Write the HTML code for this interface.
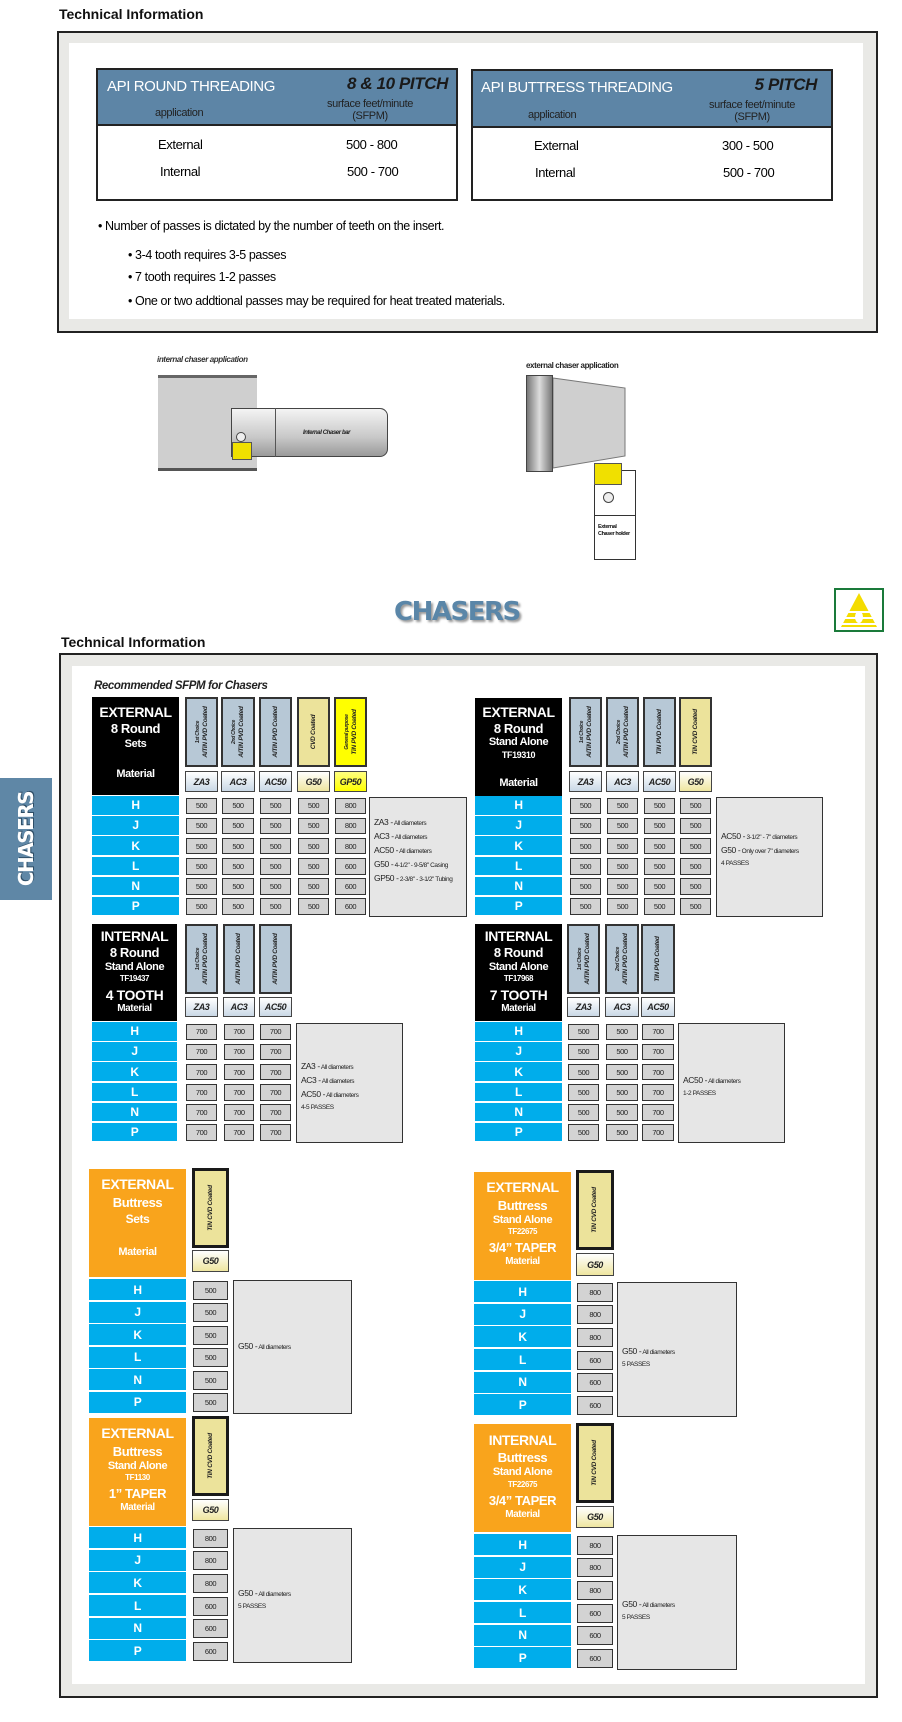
<!DOCTYPE html>
<html><head><meta charset="utf-8">
<style>
*{margin:0;padding:0;box-sizing:border-box}
body{width:902px;height:1722px;position:relative;background:#fff;font-family:"Liberation Sans",Arial,sans-serif;overflow:hidden}
.a{position:absolute}
.n{font-family:"Liberation Sans Narrow","Liberation Sans",sans-serif;white-space:nowrap;letter-spacing:-0.4px}
.ti{font-weight:bold;font-size:14px;color:#111}
.frame{border:2px solid #222;background:#e9e9e6}
.white{background:#fff}
.th{background:#5d85a6;}
.tbl{border:2px solid #222;background:#fff}
.cell{border:1px solid #333;background:#d3d3d3;font-size:7.5px;color:#222;display:flex;align-items:center;justify-content:center}
.lab{color:#fff;font-weight:bold;text-align:center;white-space:nowrap}
.hb{border:2px solid #333;background:#b7c8d6;overflow:hidden}
.hb .r{position:absolute;left:50%;top:50%;transform:translate(-50%,-50%) rotate(-90deg);white-space:nowrap;font-size:6.5px;font-weight:bold;font-style:italic;color:#222;text-align:center;line-height:8px;letter-spacing:-0.3px}
.code{border:1px solid #444;background:linear-gradient(#fff,#c9d8e6);font-size:9px;font-weight:bold;font-style:italic;color:#222;display:flex;align-items:center;justify-content:center}
.note{border:1px solid #333;background:#e6e6e6;font-size:6.5px;color:#222;padding-left:4px;line-height:12px}
.note b{font-size:8.5px;font-weight:normal}
.row{background:#00adeb;color:#fff;font-weight:bold;font-size:12px;display:flex;align-items:center;justify-content:center}
</style></head><body>

<div class="a ti" style="left:59px;top:6px">Technical Information</div>
<div class="a frame" style="left:57px;top:31px;width:821px;height:302px"></div>
<div class="a white" style="left:69px;top:43px;width:794px;height:276px"></div>

<div class="a tbl" style="left:96px;top:68px;width:362px;height:133px"></div>
<div class="a th" style="left:98px;top:70px;width:358px;height:56px;border-bottom:2px solid #222"></div>
<div class="a n" style="left:107px;top:78px;color:#fff;font-size:15px">API ROUND THREADING</div>
<div class="a n" style="left:310px;top:74px;width:138px;text-align:right;color:#1a1a1a;font-size:17px;font-weight:bold;font-style:italic">8 &amp; 10 PITCH</div>
<div class="a n" style="left:155px;top:107px;color:#222;font-size:11px">application</div>
<div class="a n" style="left:315px;top:98px;width:110px;text-align:center;color:#222;font-size:11px;line-height:12px">surface feet/minute<br>(SFPM)</div>
<div class="a n" style="left:158px;top:137px;font-size:13px">External</div>
<div class="a n" style="left:346px;top:137px;font-size:13px">500 - 800</div>
<div class="a n" style="left:160px;top:164px;font-size:13px">Internal</div>
<div class="a n" style="left:347px;top:164px;font-size:13px">500 - 700</div>

<div class="a tbl" style="left:471px;top:69px;width:362px;height:132px"></div>
<div class="a th" style="left:473px;top:71px;width:358px;height:57px;border-bottom:2px solid #222"></div>
<div class="a n" style="left:481px;top:79px;color:#fff;font-size:15px">API BUTTRESS THREADING</div>
<div class="a n" style="left:680px;top:75px;width:137px;text-align:right;color:#1a1a1a;font-size:17px;font-weight:bold;font-style:italic">5 PITCH</div>
<div class="a n" style="left:528px;top:109px;color:#222;font-size:11px">application</div>
<div class="a n" style="left:697px;top:99px;width:110px;text-align:center;color:#222;font-size:11px;line-height:12px">surface feet/minute<br>(SFPM)</div>
<div class="a n" style="left:534px;top:138px;font-size:13px">External</div>
<div class="a n" style="left:722px;top:138px;font-size:13px">300 - 500</div>
<div class="a n" style="left:535px;top:165px;font-size:13px">Internal</div>
<div class="a n" style="left:723px;top:165px;font-size:13px">500 - 700</div>

<div class="a n" style="left:98px;top:219px;font-size:12.5px">• Number of passes is dictated by the number of teeth on the insert.</div>
<div class="a n" style="left:128px;top:248px;font-size:12.5px">• 3-4 tooth requires 3-5 passes</div>
<div class="a n" style="left:128px;top:270px;font-size:12.5px">• 7 tooth requires 1-2 passes</div>
<div class="a n" style="left:128px;top:294px;font-size:12.5px">• One or two addtional passes may be required for heat treated materials.</div>

<!-- illustrations -->
<div class="a n" style="left:157px;top:355px;font-size:8px;font-style:italic;font-weight:bold;color:#333">internal chaser application</div>
<div class="a" style="left:158px;top:375px;width:99px;height:96px;background:#cfcfcf;border-top:3px solid #666;border-bottom:3px solid #555"></div>
<div class="a" style="left:231px;top:408px;width:157px;height:49px;background:linear-gradient(#f4f4f4,#c8c8c8 60%,#9a9a9a);border:1px solid #444;border-radius:0 8px 8px 0"></div>
<div class="a" style="left:275px;top:408px;width:1px;height:49px;background:#555"></div>
<div class="a n" style="left:303px;top:430px;font-size:6px;font-weight:bold;font-style:italic;color:#222">Internal Chaser bar</div>
<div class="a" style="left:232px;top:442px;width:20px;height:18px;background:#f0e000;border:1px solid #555"></div>
<div class="a" style="left:236px;top:432px;width:10px;height:10px;border:1px solid #444;border-radius:50%;background:#eee"></div>

<div class="a n" style="left:526px;top:361px;font-size:8px;font-weight:bold;color:#222">external chaser application</div>
<div class="a" style="left:526px;top:375px;width:27px;height:97px;background:linear-gradient(90deg,#777,#ddd 50%,#777);border:1px solid #444"></div>
<svg class="a" style="left:553px;top:376px" width="75" height="96"><polygon points="0,2 72,12 72,80 0,92" fill="#cfcfcf" stroke="#777"/></svg>
<div class="a" style="left:594px;top:470px;width:42px;height:90px;border:1px solid #333;background:#fff"></div>
<div class="a" style="left:594px;top:515px;width:42px;height:1px;background:#333"></div>
<div class="a" style="left:594px;top:463px;width:28px;height:22px;background:#f0e000;border:1px solid #555"></div>
<div class="a" style="left:603px;top:492px;width:11px;height:11px;border:1px solid #444;border-radius:50%;background:#eee"></div>
<div class="a n" style="left:598px;top:524px;font-size:5.5px;font-weight:bold;line-height:7px;color:#111">External<br>Chaser holder</div>

<!-- CHASERS title -->
<div class="a" style="left:394px;top:597px;font-size:26px;font-weight:900;color:#5a86a8;letter-spacing:-1.5px;text-shadow:2px 2px 2px #999;font-family:'DejaVu Sans',sans-serif">CHASERS</div>
<div class="a" style="left:834px;top:588px;width:50px;height:44px;border:2px solid #1a7a3a;background:#fff"></div>
<svg class="a" style="left:837px;top:591px" width="44" height="38"><polygon points="22,2 40,36 4,36" fill="#f4dc00"/><rect x="4" y="20" width="36" height="2" fill="#fff"/><rect x="4" y="26" width="36" height="2" fill="#fff"/><rect x="4" y="32" width="36" height="2" fill="#fff"/><ellipse cx="22" cy="26" rx="4" ry="6" fill="#fff"/></svg>

<div class="a ti" style="left:61px;top:634px">Technical Information</div>
<div class="a" style="left:59px;top:653px;width:819px;height:1045px;border:2px solid #222;background:#e9e9e6"></div>
<div class="a white" style="left:72px;top:666px;width:793px;height:1018px"></div>

<div class="a" style="left:0;top:778px;width:52px;height:122px;background:#5f87a6"></div>
<div class="a" style="left:26px;top:839px;transform:translate(-50%,-50%) rotate(-90deg);font-size:20px;font-weight:900;color:#fff;text-shadow:1px 1px 0 #2d4d66;white-space:nowrap;font-family:'DejaVu Sans',sans-serif;letter-spacing:-1.5px">CHASERS</div>

<div class="a n" style="left:94px;top:680px;font-size:11.5px;font-weight:bold;font-style:italic;color:#222">Recommended SFPM for Chasers</div>

<div id="blocks"></div>
<script>
var H='';
function add(s){H+=s;}
function blk(o){
  add('<div class="a" style="left:'+o.x+'px;top:'+o.y+'px;width:'+o.lw+'px;height:'+o.lh+'px;background:'+o.bg+'"></div>');
  o.lines.forEach(function(l){
    add('<div class="a lab n" style="left:'+o.x+'px;width:'+o.lw+'px;top:'+(l[2]-l[1]*0.6)+'px;font-size:'+l[1]+'px;line-height:'+(l[1]*1.2)+'px">'+l[0]+'</div>');
  });
  o.cols.forEach(function(c,i){
    var st=c.bd?'border:3px solid #1a1a1a;':'';
    add('<div class="a hb" style="left:'+c.x+'px;top:'+o.ct+'px;width:'+c.w+'px;height:'+o.ch+'px;background:'+(c.bg||'#b7c8d6')+';'+st+'"><div class="r">'+c.t+'</div></div>');
    var cb=c.cbg?'background:'+c.cbg+';':'';
    add('<div class="a code n" style="left:'+c.x+'px;top:'+o.kt+'px;width:'+c.w+'px;height:'+o.kh+'px;'+cb+'">'+c.k+'</div>');
  });
  var L=['H','J','K','L','N','P'];
  var rh=(o.rb-o.rt)/6;
  for(var r=0;r<6;r++){
    var y=o.rt+r*rh;
    add('<div class="a row n" style="left:'+o.x+'px;top:'+y+'px;width:'+o.lw+'px;height:'+(rh-1.5)+'px">'+L[r]+'</div>');
    o.cols.forEach(function(c,i){
      add('<div class="a cell n" style="left:'+(c.x+1)+'px;top:'+(y+1.5)+'px;width:'+(c.w-2)+'px;height:'+(rh-3.5)+'px">'+o.v[r][i]+'</div>');
    });
  }
  add('<div class="a note n" style="left:'+o.nx+'px;top:'+(o.rt+1)+'px;width:'+o.nw+'px;height:'+(o.rb-o.rt-1)+'px;padding-top:'+o.np+'px">'+o.note+'</div>');
}
var BE='#ece39b',YE='#ffff00',BEC='linear-gradient(#fff,#efe6a0)',YEC='linear-gradient(#ffff80,#ffff00)';
function rep(a){return [a,a,a,a,a,a];}
var c1='<span style="font-size:5px">1st Choice</span><br>AlTiN PVD Coated',c2='<span style="font-size:5px">2nd Choice</span><br>AlTiN PVD Coated';
blk({x:92,lw:87,y:697,lh:98,bg:'#000',
 lines:[['EXTERNAL',14,712],['8 Round',13,729],['Sets',11,745],['Material',11,775]],
 cols:[{x:185,w:33,t:c1,k:'ZA3'},{x:221,w:34,t:c2,k:'AC3'},{x:259,w:33,t:'AlTiN PVD Coated',k:'AC50'},{x:297,w:33,t:'CVD Coated',k:'G50',bg:BE,cbg:BEC},{x:334,w:33,t:'<span style="font-size:5px">General purpose</span><br>TiN PVD Coated',k:'GP50',bg:YE,cbg:YEC}],
 ct:697,ch:70,kt:771,kh:21,rt:796,rb:917,
 v:[['500','500','500','500','800'],['500','500','500','500','800'],['500','500','500','500','800'],['500','500','500','500','600'],['500','500','500','500','600'],['500','500','500','500','600']],
 nx:369,nw:98,np:18,note:'<b>ZA3 -</b> All diameters<br><b>AC3 -</b> All diameters<br><b>AC50 -</b> All diameters<br><b>G50 -</b> 4-1/2" - 9-5/8" Casing<br><b>GP50 -</b> 2-3/8" - 3-1/2" Tubing'});
blk({x:475,lw:87,y:698,lh:98,bg:'#000',
 lines:[['EXTERNAL',14,712],['8 Round',13,729],['Stand Alone',11,743],['TF19310',9,755],['Material',11,784]],
 cols:[{x:569,w:33,t:c1,k:'ZA3'},{x:606,w:33,t:c2,k:'AC3'},{x:643,w:33,t:'TiN PVD Coated',k:'AC50'},{x:679,w:33,t:'TiN CVD Coated',k:'G50',bg:BE,cbg:BEC}],
 ct:697,ch:70,kt:771,kh:21,rt:796,rb:917,
 v:rep(['500','500','500','500']),
 nx:716,nw:107,np:32,note:'<b>AC50 -</b> 3-1/2" - 7" diameters<br><b>G50 -</b> Only over 7" diameters<br>4 PASSES'});
blk({x:92,lw:85,y:924,lh:97,bg:'#000',
 lines:[['INTERNAL',14,936],['8 Round',13,953],['Stand Alone',11,968],['TF19437',8,979],['4 TOOTH',14,995],['Material',10,1009]],
 cols:[{x:185,w:33,t:c1,k:'ZA3'},{x:223,w:32,t:'AlTiN PVD Coated',k:'AC3'},{x:259,w:33,t:'AlTiN PVD Coated',k:'AC50'}],
 ct:924,ch:70,kt:997,kh:20,rt:1022,rb:1143,
 v:rep(['700','700','700']),
 nx:296,nw:107,np:36,note:'<b>ZA3 -</b> All diameters<br><b>AC3 -</b> All diameters<br><b>AC50 -</b> All diameters<br>4-5 PASSES'});
blk({x:475,lw:87,y:924,lh:97,bg:'#000',
 lines:[['INTERNAL',14,936],['8 Round',13,953],['Stand Alone',11,968],['TF17968',8,979],['7 TOOTH',14,995],['Material',10,1009]],
 cols:[{x:567,w:33,t:c1,k:'ZA3'},{x:605,w:34,t:c2,k:'AC3'},{x:641,w:34,t:'TiN PVD Coated',k:'AC50'}],
 ct:924,ch:70,kt:997,kh:20,rt:1022,rb:1143,
 v:rep(['500','500','700']),
 nx:678,nw:107,np:50,note:'<b>AC50 -</b> All diameters<br>1-2 PASSES'});
var OR='#f9a41c',tin='TiN CVD Coated';
blk({x:89,lw:97,y:1169,lh:108,bg:OR,
 lines:[['EXTERNAL',14,1184],['Buttress',13,1203],['Sets',12,1219],['Material',11,1253]],
 cols:[{x:192,w:37,t:tin,k:'G50',bg:BE,cbg:BEC,bd:1}],
 ct:1168,ch:80,kt:1250,kh:22,rt:1279,rb:1414,
 v:rep(['500']),
 nx:233,nw:119,np:59,note:'<b>G50 -</b> All diameters'});
blk({x:474,lw:97,y:1172,lh:108,bg:OR,
 lines:[['EXTERNAL',14,1187],['Buttress',13,1206],['Stand Alone',11,1221],['TF22675',8,1232],['3/4&rdquo; TAPER',13,1248],['Material',10,1262]],
 cols:[{x:576,w:38,t:tin,k:'G50',bg:BE,cbg:BEC,bd:1}],
 ct:1170,ch:80,kt:1253,kh:23,rt:1281,rb:1417,
 v:[['800'],['800'],['800'],['600'],['600'],['600']],
 nx:617,nw:120,np:62,note:'<b>G50 -</b> All diameters<br>5 PASSES'});
blk({x:89,lw:97,y:1418,lh:108,bg:OR,
 lines:[['EXTERNAL',14,1433],['Buttress',13,1452],['Stand Alone',11,1467],['TF1130',8,1478],['1&rdquo; TAPER',13,1494],['Material',10,1508]],
 cols:[{x:192,w:37,t:tin,k:'G50',bg:BE,cbg:BEC,bd:1}],
 ct:1416,ch:80,kt:1499,kh:22,rt:1527,rb:1663,
 v:[['800'],['800'],['800'],['600'],['600'],['600']],
 nx:233,nw:119,np:58,note:'<b>G50 -</b> All diameters<br>5 PASSES'});
blk({x:474,lw:97,y:1424,lh:108,bg:OR,
 lines:[['INTERNAL',14,1440],['Buttress',13,1458],['Stand Alone',11,1473],['TF22675',8,1485],['3/4&rdquo; TAPER',13,1501],['Material',10,1515]],
 cols:[{x:576,w:38,t:tin,k:'G50',bg:BE,cbg:BEC,bd:1}],
 ct:1423,ch:80,kt:1506,kh:22,rt:1534,rb:1670,
 v:[['800'],['800'],['800'],['600'],['600'],['600']],
 nx:617,nw:120,np:62,note:'<b>G50 -</b> All diameters<br>5 PASSES'});
document.getElementById('blocks').innerHTML=H;
</script>
</body></html>
